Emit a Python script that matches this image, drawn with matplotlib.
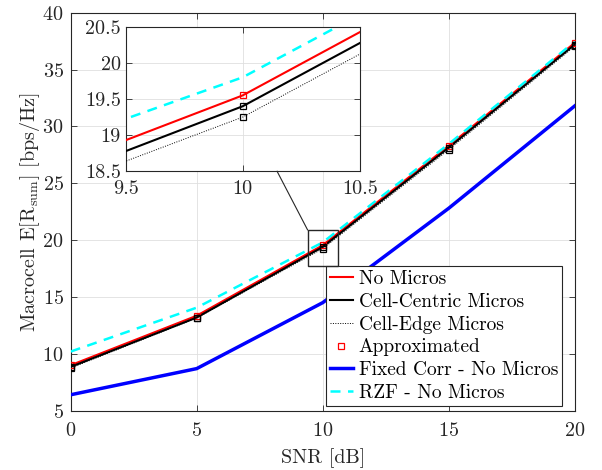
import matplotlib
matplotlib.use("Agg")
import matplotlib.pyplot as plt
from matplotlib.patches import Rectangle

plt.rcParams['font.family'] = ['cmr10', 'DejaVu Serif']
plt.rcParams['mathtext.fontset'] = 'cm'
plt.rcParams['axes.formatter.use_mathtext'] = True

snr = [0, 5, 10, 15, 20]
no_micros = [9.0, 13.35, 19.55, 28.29, 37.35]
cell_centric = [8.85, 13.19, 19.40, 28.13, 37.2]
cell_edge = [8.75, 13.15, 19.25, 27.95, 37.05]
fixed_corr = [6.4, 8.7, 14.5, 22.8, 31.8]
rzf = [10.2, 14.06, 19.80, 28.45, 37.45]

xticks = [0, 5, 10, 15, 20]
yticks = [5, 10, 15, 20, 25, 30, 35, 40]
in_xticks = [9.5, 10, 10.5]
in_yticks = [18.5, 19, 19.5, 20, 20.5]

axc = '#262626'
gridc = '#dfdfdf'
fs = 14.5

fig = plt.figure(figsize=(6.02, 4.70), dpi=100)
ax = fig.add_axes([0.1174, 0.1262, 0.8373, 0.8468])


def draw(a, ms=5):
    a.plot(snr, no_micros, color='#ff0000', lw=1.5, label='No Micros', zorder=4)
    a.plot(snr, cell_centric, color='black', lw=1.5, label='Cell-Centric Micros', zorder=4)
    a.plot(snr, cell_edge, color='black', lw=0.7, ls=(0, (1, 1.5)), label='Cell-Edge Micros', zorder=4)
    a.plot(snr, no_micros, ls='none', marker='s', ms=ms, mfc='none', mec='#ff0000', mew=0.9,
           label='Approximated', zorder=5)
    a.plot(snr, cell_centric, ls='none', marker='s', ms=ms, mfc='none', mec='black', mew=0.9, zorder=5)
    a.plot(snr, cell_edge, ls='none', marker='s', ms=ms, mfc='none', mec='black', mew=0.9, zorder=5)
    a.plot(snr, fixed_corr, color='#0000ff', lw=2.5, label='Fixed Corr - No Micros', zorder=4)
    a.plot(snr, rzf, color='#00ffff', lw=1.8, ls=(0, (4, 3)), label='RZF - No Micros', zorder=4)


def style(a):
    a.grid(True, color=gridc, lw=0.6)
    a.set_axisbelow(True)
    for s in a.spines.values():
        s.set_color(axc)
        s.set_linewidth(0.8)
    a.tick_params(direction='in', top=True, right=True, colors=axc, labelcolor='#262626',
                  labelsize=fs, length=4, width=0.6)


draw(ax, ms=5)
style(ax)
ax.tick_params(axis='x', pad=8)
ax.tick_params(axis='y', pad=5)
ax.set_xlim(0, 20)
ax.set_ylim(5, 40)
ax.set_xticks(xticks)
ax.set_yticks(yticks)
ax.set_xlabel('SNR [dB]', fontsize=fs, color='#262626', labelpad=6)
ax.set_ylabel(r'Macrocell E[R$_{\mathrm{sum}}$] [bps/Hz]', fontsize=fs, color='#262626', labelpad=0)

leg = ax.legend(loc='lower right', bbox_to_anchor=(0.975, 0.012), borderaxespad=0,
                fontsize=14, frameon=True, fancybox=False, framealpha=1, edgecolor=axc,
                handlelength=1.2, handletextpad=0.3, labelspacing=0.25, borderpad=0.2,
                markerscale=0.8)
leg.get_frame().set_linewidth(0.8)

# zoom rectangle
rect = Rectangle((9.4, 17.75), 1.2, 3.15, fill=False, edgecolor=axc, lw=1.0, zorder=6)
ax.add_patch(rect)

# inset
axin = fig.add_axes([0.2088, 0.6355, 0.3887, 0.3077])
draw(axin, ms=5)
style(axin)
axin.tick_params(axis='x', pad=6)
axin.set_xlim(9.5, 10.5)
axin.set_ylim(18.5, 20.5)
axin.set_xticks(in_xticks)
axin.set_yticks(in_yticks)
axin.set_xticklabels(['9.5', '10', '10.5'])
axin.set_yticklabels(['18.5', '19', '19.5', '20', '20.5'])
axin.set_facecolor('white')

# connector line from rectangle corner to inset
p1 = ax.transData.transform((9.4, 20.9))
p1f = fig.transFigure.inverted().transform(p1)
p2f = axin.transAxes.transform((0.647, 0.0))
p2f = fig.transFigure.inverted().transform(p2f)
fig.add_artist(plt.Line2D([p1f[0], p2f[0]], [p1f[1], p2f[1]], color=axc, lw=0.8))

fig.savefig('out.png', dpi=100)
